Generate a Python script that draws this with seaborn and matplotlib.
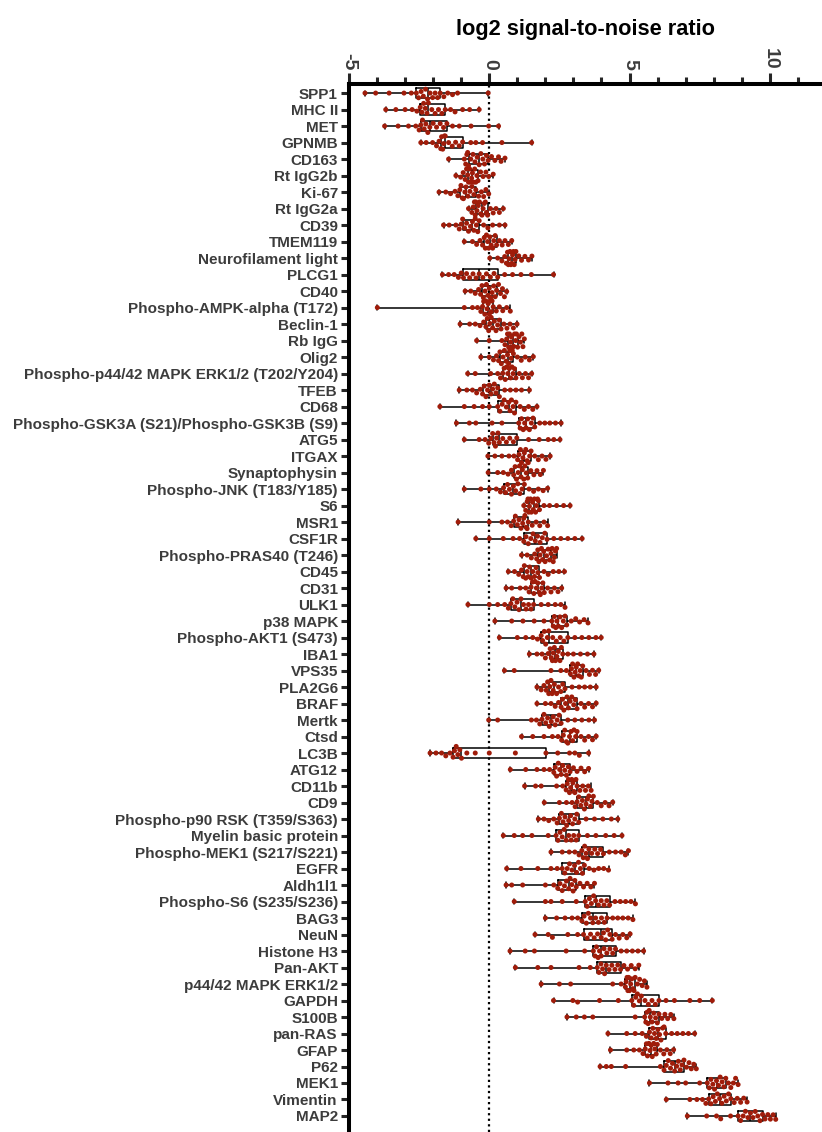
import numpy as np
import pandas as pd
import matplotlib
matplotlib.use("Agg")
import matplotlib.pyplot as plt
import seaborn as sns

categories = [
    "SPP1", "MHC II", "MET", "GPNMB", "CD163", "Rt IgG2b", "Ki-67", "Rt IgG2a", "CD39",
    "TMEM119", "Neurofilament light", "PLCG1", "CD40", "Phospho-AMPK-alpha (T172)",
    "Beclin-1", "Rb IgG", "Olig2", "Phospho-p44/42 MAPK ERK1/2 (T202/Y204)", "TFEB",
    "CD68", "Phospho-GSK3A (S21)/Phospho-GSK3B (S9)", "ATG5", "ITGAX", "Synaptophysin",
    "Phospho-JNK (T183/Y185)", "S6", "MSR1", "CSF1R", "Phospho-PRAS40 (T246)", "CD45",
    "CD31", "ULK1", "p38 MAPK", "Phospho-AKT1 (S473)", "IBA1", "VPS35", "PLA2G6", "BRAF",
    "Mertk", "Ctsd", "LC3B", "ATG12", "CD11b", "CD9", "Phospho-p90 RSK (T359/S363)",
    "Myelin basic protein", "Phospho-MEK1 (S217/S221)", "EGFR", "Aldh1l1",
    "Phospho-S6 (S235/S236)", "BAG3", "NeuN", "Histone H3", "Pan-AKT",
    "p44/42 MAPK ERK1/2", "GAPDH", "S100B", "pan-RAS", "GFAP", "P62", "MEK1",
    "Vimentin", "MAP2",
]

snr_values = [
    [-4.43, -4.05, -3.57, -3.04, -2.78, -2.60, -2.52, -2.43, -2.35, -2.27, -2.20, -2.11, -2.02, -1.93, -1.84, -1.75, -1.62, -1.48, -1.31, -1.13, -0.04],
    [-3.69, -3.33, -3.0, -2.75, -2.58, -2.46, -2.40, -2.34, -2.28, -2.22, -2.17, -2.05, -1.93, -1.81, -1.69, -1.57, -1.38, -1.22, -0.95, -0.7, -0.36],
    [-3.73, -3.25, -2.88, -2.62, -2.50, -2.44, -2.38, -2.32, -2.26, -2.19, -2.12, -2.0, -1.88, -1.75, -1.63, -1.51, -1.31, -1.07, -0.65, -0.02, 0.33],
    [-2.44, -2.25, -2.02, -1.88, -1.79, -1.73, -1.70, -1.66, -1.63, -1.60, -1.57, -1.45, -1.32, -1.20, -1.07, -0.95, -0.66, -0.48, -0.24, 0.45, 1.51],
    [-1.45, -0.89, -0.84, -0.80, -0.77, -0.74, -0.66, -0.58, -0.51, -0.43, -0.36, -0.30, -0.23, -0.17, -0.10, -0.04, 0.08, 0.2, 0.33, 0.42, 0.56],
    [-1.19, -1.02, -0.93, -0.86, -0.81, -0.77, -0.74, -0.70, -0.67, -0.63, -0.60, -0.56, -0.52, -0.48, -0.44, -0.40, -0.31, -0.22, -0.12, -0.02, 0.14],
    [-1.79, -1.55, -1.38, -1.22, -1.12, -1.05, -1.01, -0.96, -0.92, -0.87, -0.83, -0.76, -0.69, -0.62, -0.55, -0.48, -0.38, -0.28, -0.2, -0.12, -0.02],
    [-0.74, -0.62, -0.57, -0.53, -0.50, -0.48, -0.44, -0.39, -0.35, -0.30, -0.26, -0.22, -0.18, -0.14, -0.10, -0.06, 0.04, 0.14, 0.24, 0.36, 0.5],
    [-1.63, -1.43, -1.19, -1.07, -1.0, -0.95, -0.88, -0.81, -0.74, -0.67, -0.60, -0.55, -0.50, -0.46, -0.41, -0.36, -0.2, -0.05, 0.12, 0.36, 0.56],
    [-0.89, -0.6, -0.45, -0.33, -0.24, -0.18, -0.14, -0.10, -0.06, -0.02, 0.02, 0.07, 0.12, 0.16, 0.21, 0.26, 0.36, 0.46, 0.56, 0.68, 0.8],
    [0.02, 0.3, 0.45, 0.55, 0.61, 0.65, 0.68, 0.71, 0.74, 0.77, 0.80, 0.83, 0.86, 0.89, 0.92, 0.95, 1.05, 1.15, 1.27, 1.4, 1.52],
    [-1.67, -1.45, -1.25, -1.1, -1.0, -0.92, -0.81, -0.70, -0.58, -0.47, -0.36, -0.23, -0.1, 0.04, 0.17, 0.30, 0.55, 0.83, 1.13, 1.5, 2.29],
    [-0.86, -0.66, -0.5, -0.38, -0.31, -0.26, -0.21, -0.15, -0.10, -0.05, 0.0, 0.05, 0.10, 0.16, 0.21, 0.26, 0.33, 0.40, 0.47, 0.54, 0.62],
    [-3.99, -0.89, -0.6, -0.42, -0.3, -0.24, -0.20, -0.16, -0.12, -0.08, -0.04, 0.0, 0.03, 0.07, 0.10, 0.14, 0.25, 0.36, 0.48, 0.62, 0.75],
    [-1.04, -0.7, -0.5, -0.33, -0.2, -0.12, -0.07, -0.02, 0.02, 0.07, 0.12, 0.18, 0.24, 0.30, 0.36, 0.42, 0.52, 0.63, 0.74, 0.86, 0.99],
    [-0.45, 0.0, 0.45, 0.56, 0.62, 0.65, 0.69, 0.72, 0.76, 0.79, 0.83, 0.87, 0.90, 0.94, 0.97, 1.01, 1.06, 1.11, 1.16, 1.2, 1.25],
    [-0.30, 0.0, 0.15, 0.26, 0.33, 0.38, 0.43, 0.49, 0.54, 0.60, 0.65, 0.69, 0.73, 0.78, 0.82, 0.86, 1.0, 1.14, 1.28, 1.43, 1.57],
    [-0.77, -0.5, 0.05, 0.3, 0.4, 0.48, 0.53, 0.57, 0.62, 0.66, 0.71, 0.76, 0.81, 0.85, 0.9, 0.95, 1.07, 1.18, 1.29, 1.4, 1.51],
    [-1.07, -0.8, -0.6, -0.45, -0.32, -0.24, -0.18, -0.12, -0.06, 0.0, 0.06, 0.12, 0.18, 0.24, 0.30, 0.36, 0.55, 0.75, 0.95, 1.15, 1.43],
    [-1.76, -0.89, -0.54, -0.24, 0.0, 0.30, 0.38, 0.46, 0.53, 0.61, 0.69, 0.74, 0.79, 0.85, 0.90, 0.95, 1.1, 1.25, 1.4, 1.55, 1.70],
    [-1.17, -0.71, -0.48, 0.1, 0.45, 1.05, 1.10, 1.15, 1.21, 1.26, 1.31, 1.37, 1.43, 1.50, 1.56, 1.62, 1.8, 1.98, 2.16, 2.36, 2.56],
    [-0.89, -0.36, -0.15, -0.02, 0.06, 0.12, 0.17, 0.22, 0.26, 0.31, 0.36, 0.48, 0.61, 0.73, 0.86, 0.98, 1.4, 1.78, 2.1, 2.3, 2.52],
    [-0.05, 0.2, 0.45, 0.7, 0.88, 1.01, 1.06, 1.11, 1.15, 1.20, 1.25, 1.30, 1.35, 1.39, 1.44, 1.49, 1.62, 1.75, 1.88, 2.02, 2.17],
    [-0.04, 0.3, 0.5, 0.67, 0.79, 0.87, 0.92, 0.97, 1.03, 1.08, 1.13, 1.18, 1.23, 1.27, 1.32, 1.37, 1.48, 1.59, 1.7, 1.82, 1.93],
    [-0.89, -0.3, 0.0, 0.25, 0.4, 0.51, 0.58, 0.65, 0.72, 0.79, 0.86, 0.94, 1.02, 1.09, 1.17, 1.25, 1.42, 1.58, 1.75, 1.92, 2.08],
    [1.23, 1.3, 1.35, 1.38, 1.41, 1.43, 1.47, 1.50, 1.54, 1.57, 1.61, 1.65, 1.68, 1.72, 1.75, 1.79, 1.95, 2.15, 2.4, 2.65, 2.88],
    [-1.11, 0.0, 0.45, 0.65, 0.78, 0.87, 0.93, 1.0, 1.06, 1.13, 1.19, 1.23, 1.27, 1.31, 1.35, 1.39, 1.53, 1.67, 1.8, 1.95, 2.08],
    [-0.48, 0.0, 0.5, 0.85, 1.08, 1.23, 1.31, 1.39, 1.48, 1.56, 1.64, 1.72, 1.81, 1.89, 1.98, 2.06, 2.3, 2.55, 2.8, 3.05, 3.31],
    [1.15, 1.35, 1.5, 1.62, 1.69, 1.73, 1.77, 1.81, 1.86, 1.90, 1.94, 1.99, 2.04, 2.10, 2.15, 2.20, 2.24, 2.28, 2.32, 2.36, 2.40],
    [0.68, 0.9, 1.05, 1.15, 1.21, 1.25, 1.30, 1.35, 1.39, 1.44, 1.49, 1.55, 1.61, 1.67, 1.73, 1.79, 1.95, 2.1, 2.28, 2.48, 2.68],
    [0.60, 0.8, 1.1, 1.3, 1.42, 1.49, 1.54, 1.59, 1.63, 1.68, 1.73, 1.78, 1.82, 1.87, 1.91, 1.96, 2.08, 2.2, 2.32, 2.45, 2.58],
    [-0.76, 0.0, 0.3, 0.55, 0.68, 0.77, 0.84, 0.91, 0.99, 1.06, 1.13, 1.22, 1.31, 1.40, 1.49, 1.58, 1.85, 2.1, 2.35, 2.55, 2.70],
    [0.20, 0.8, 1.2, 1.6, 1.95, 2.23, 2.28, 2.32, 2.37, 2.41, 2.46, 2.52, 2.58, 2.64, 2.70, 2.76, 2.92, 3.08, 3.22, 3.38, 3.52],
    [0.36, 1.0, 1.3, 1.55, 1.72, 1.85, 1.90, 1.96, 2.01, 2.07, 2.12, 2.26, 2.39, 2.53, 2.66, 2.80, 3.05, 3.3, 3.55, 3.8, 3.99],
    [1.43, 1.7, 1.88, 2.0, 2.1, 2.17, 2.21, 2.25, 2.28, 2.32, 2.36, 2.41, 2.46, 2.52, 2.57, 2.62, 2.8, 3.0, 3.25, 3.5, 3.73],
    [0.54, 0.89, 2.2, 2.55, 2.75, 2.89, 2.93, 2.97, 3.02, 3.06, 3.10, 3.15, 3.19, 3.24, 3.28, 3.33, 3.45, 3.57, 3.68, 3.79, 3.90],
    [1.70, 1.85, 1.95, 2.03, 2.08, 2.12, 2.16, 2.20, 2.24, 2.28, 2.32, 2.40, 2.47, 2.55, 2.62, 2.70, 2.95, 3.2, 3.4, 3.6, 3.81],
    [1.70, 2.0, 2.2, 2.35, 2.47, 2.56, 2.61, 2.66, 2.72, 2.77, 2.82, 2.88, 2.94, 3.01, 3.07, 3.13, 3.27, 3.4, 3.54, 3.68, 3.81],
    [-0.02, 0.3, 1.5, 1.68, 1.8, 1.88, 1.95, 2.01, 2.08, 2.14, 2.21, 2.28, 2.35, 2.42, 2.49, 2.56, 2.8, 3.05, 3.3, 3.55, 3.75],
    [1.15, 1.55, 1.95, 2.25, 2.45, 2.58, 2.64, 2.69, 2.75, 2.80, 2.86, 2.91, 2.97, 3.02, 3.08, 3.13, 3.27, 3.4, 3.54, 3.68, 3.81],
    [-2.11, -1.9, -1.7, -1.55, -1.4, -1.29, -1.24, -1.18, -1.12, -1.05, -0.99, -0.8, -0.5, 0.0, 0.93, 2.02, 2.44, 2.86, 3.05, 3.21, 3.54],
    [0.75, 1.3, 1.7, 1.95, 2.15, 2.30, 2.35, 2.40, 2.46, 2.51, 2.56, 2.62, 2.69, 2.75, 2.82, 2.88, 3.0, 3.13, 3.27, 3.4, 3.54],
    [1.26, 1.65, 1.85, 2.4, 2.62, 2.74, 2.78, 2.82, 2.86, 2.90, 2.94, 2.98, 3.02, 3.05, 3.09, 3.13, 3.23, 3.33, 3.43, 3.53, 3.63],
    [1.96, 2.5, 2.75, 2.95, 3.06, 3.13, 3.19, 3.26, 3.32, 3.39, 3.45, 3.50, 3.55, 3.61, 3.66, 3.71, 3.85, 3.99, 4.13, 4.27, 4.40],
    [1.75, 1.95, 2.12, 2.3, 2.42, 2.50, 2.57, 2.63, 2.70, 2.76, 2.83, 2.90, 2.97, 3.05, 3.12, 3.19, 3.45, 3.75, 4.05, 4.35, 4.58],
    [0.50, 0.89, 1.19, 1.52, 2.1, 2.38, 2.45, 2.52, 2.60, 2.67, 2.74, 2.83, 2.92, 3.01, 3.10, 3.19, 3.5, 3.8, 4.15, 4.45, 4.73],
    [2.20, 2.6, 2.85, 3.05, 3.2, 3.30, 3.35, 3.40, 3.45, 3.50, 3.55, 3.65, 3.76, 3.86, 3.97, 4.07, 4.28, 4.5, 4.7, 4.85, 4.96],
    [0.62, 1.13, 1.73, 2.2, 2.42, 2.60, 2.69, 2.78, 2.86, 2.95, 3.04, 3.11, 3.18, 3.25, 3.32, 3.39, 3.56, 3.73, 3.9, 4.08, 4.25],
    [0.60, 0.8, 1.19, 2.0, 2.3, 2.44, 2.52, 2.60, 2.68, 2.75, 2.83, 2.88, 2.94, 2.99, 3.05, 3.10, 3.23, 3.36, 3.49, 3.62, 3.75],
    [0.89, 2.0, 2.2, 2.6, 3.1, 3.42, 3.49, 3.57, 3.64, 3.72, 3.79, 3.89, 3.99, 4.09, 4.19, 4.29, 4.48, 4.67, 4.86, 5.05, 5.21],
    [2.0, 2.4, 2.7, 2.95, 3.15, 3.30, 3.38, 3.46, 3.53, 3.61, 3.69, 3.79, 3.89, 4.0, 4.10, 4.20, 4.4, 4.58, 4.76, 4.95, 5.12],
    [1.63, 2.1, 2.25, 2.8, 3.15, 3.36, 3.49, 3.61, 3.74, 3.86, 3.99, 4.07, 4.15, 4.22, 4.30, 4.38, 4.5, 4.63, 4.76, 4.9, 5.02],
    [0.74, 1.28, 1.61, 2.74, 3.4, 3.71, 3.77, 3.82, 3.88, 3.93, 3.99, 4.09, 4.19, 4.30, 4.40, 4.50, 4.7, 4.9, 5.1, 5.3, 5.50],
    [0.93, 1.73, 2.2, 3.2, 3.6, 3.85, 3.91, 3.98, 4.04, 4.11, 4.17, 4.27, 4.37, 4.48, 4.58, 4.68, 4.8, 4.93, 5.06, 5.2, 5.33],
    [1.85, 2.5, 2.9, 4.4, 4.7, 4.85, 4.88, 4.91, 4.94, 4.97, 5.0, 5.04, 5.08, 5.12, 5.16, 5.20, 5.28, 5.36, 5.45, 5.53, 5.62],
    [2.29, 2.98, 3.15, 3.93, 4.6, 5.08, 5.15, 5.22, 5.28, 5.35, 5.42, 5.55, 5.67, 5.80, 5.92, 6.05, 6.3, 6.6, 7.15, 7.5, 7.95],
    [2.77, 3.1, 3.39, 3.69, 5.2, 5.54, 5.58, 5.62, 5.66, 5.70, 5.74, 5.80, 5.86, 5.93, 5.99, 6.05, 6.15, 6.26, 6.36, 6.47, 6.58],
    [4.23, 4.9, 5.2, 5.45, 5.6, 5.71, 5.77, 5.83, 5.89, 5.95, 6.01, 6.07, 6.12, 6.18, 6.23, 6.29, 6.5, 6.7, 6.9, 7.1, 7.32],
    [4.32, 4.9, 5.15, 5.35, 5.48, 5.56, 5.60, 5.64, 5.69, 5.73, 5.77, 5.81, 5.86, 5.90, 5.95, 5.99, 6.1, 6.22, 6.33, 6.45, 6.57],
    [3.95, 4.17, 4.35, 4.86, 6.1, 6.23, 6.31, 6.38, 6.46, 6.53, 6.61, 6.68, 6.74, 6.81, 6.87, 6.94, 7.03, 7.12, 7.2, 7.29, 7.38],
    [5.71, 6.37, 6.73, 7.0, 7.5, 7.77, 7.84, 7.90, 7.97, 8.03, 8.10, 8.17, 8.23, 8.30, 8.36, 8.43, 8.52, 8.61, 8.70, 8.78, 8.87],
    [6.31, 7.15, 7.4, 7.6, 7.72, 7.82, 7.90, 7.98, 8.06, 8.13, 8.21, 8.29, 8.37, 8.45, 8.53, 8.61, 8.73, 8.84, 8.96, 9.07, 9.19],
    [7.06, 7.75, 8.1, 8.25, 8.6, 8.87, 8.96, 9.05, 9.13, 9.22, 9.31, 9.40, 9.48, 9.57, 9.65, 9.74, 9.83, 9.93, 10.02, 10.12, 10.21],
]

x_major_ticks = [-5, 0, 5, 10]
x_tick_labels = ["-5", "0", "5", "10"]
axis_title = "log2 signal-to-noise ratio"

rows = []
for cat, vals in zip(categories, snr_values):
    for v in vals:
        rows.append((cat, v))
df = pd.DataFrame(rows, columns=["marker", "snr"])

sns.set_style("ticks")
plt.rcParams["font.family"] = ["Liberation Sans", "DejaVu Sans"]
plt.rcParams["font.weight"] = "bold"

W, H = 822, 1132
fig = plt.figure(figsize=(W / 100, H / 100), dpi=100)
ax = fig.add_axes([349 / W, 0, 1 - 349 / W, 1 - 84 / H])

point_color = "#a01c0a"
sns.boxplot(data=df, x="snr", y="marker", order=categories, whis=(0, 100),
            fill=False, color="black", linewidth=1.1, width=0.62, ax=ax, zorder=2)
sns.swarmplot(data=df, x="snr", y="marker", order=categories, color=point_color,
              size=3.6, linewidth=0, edgecolor="none", ax=ax, zorder=4, warn_thresh=1.0)

ax.axvline(0, color="black", linestyle=(0, (1, 1.5)), linewidth=1.6, zorder=1)

ax.set_xlim(-5, 11.86)
ax.set_ylim(len(categories) - 0.03, -0.55)

ax.xaxis.set_ticks_position("top")
ax.xaxis.set_label_position("top")
ax.set_xticks(x_major_ticks)
ax.set_xticklabels(x_tick_labels, rotation=-90, fontsize=14, fontweight="bold", color="#3c3c3c")
ax.set_xticks(np.arange(-4, 12, 1), minor=True)
ax.tick_params(axis="x", which="major", length=8, width=2.2, pad=2, top=True, bottom=False)
ax.tick_params(axis="x", which="minor", length=5, width=2.2, top=True, bottom=False)
ax.set_xlabel(axis_title, fontsize=15.7, fontweight="bold", color="black", labelpad=10)

ax.set_ylabel("")
ax.tick_params(axis="y", which="major", length=6, width=2.2, pad=2, labelsize=11)
for lab in ax.get_yticklabels():
    lab.set_fontweight("bold")
    lab.set_color("#3c3c3c")

for side in ["right", "bottom"]:
    ax.spines[side].set_visible(False)
for side in ["left", "top"]:
    ax.spines[side].set_linewidth(2.9)
    ax.spines[side].set_color("black")
ax.grid(False)

fig.savefig("out.png", dpi=100)
